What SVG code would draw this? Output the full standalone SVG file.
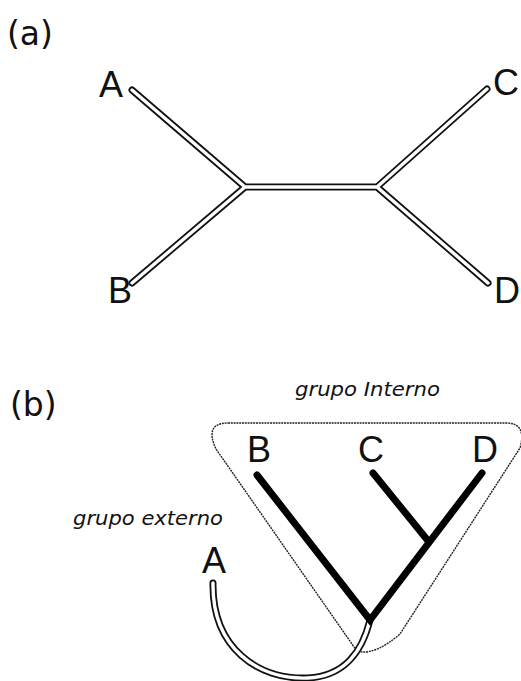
<svg xmlns="http://www.w3.org/2000/svg" width="521" height="681" viewBox="0 0 521 681">
  <style>
    .panel { font-family: "DejaVu Sans", "Liberation Sans", sans-serif; font-size: 33px; fill: #111; }
    .tip { font-family: "Liberation Sans", Arial, sans-serif; font-size: 36px; fill: #111; }
    .group { font-family: "DejaVu Sans", "Liberation Sans", sans-serif; font-size: 19px; font-style: italic; fill: #111; }
    .outer { fill: none; stroke: #111; stroke-width: 7; stroke-linecap: round; stroke-linejoin: round; }
    .inner { fill: none; stroke: #fff; stroke-width: 3.4; stroke-linecap: round; stroke-linejoin: round; }
    .thick { fill: none; stroke: #000; stroke-width: 7; stroke-linecap: round; stroke-linejoin: miter; }
    .clade { fill: none; stroke: #222; stroke-width: 1.4; stroke-dasharray: 2 0.8; }
  </style>
  <rect width="521" height="681" fill="#fff"/>

  <!-- panel labels -->
  <text class="panel" x="7" y="45">(a)</text>
  <text class="panel" x="10" y="416">(b)</text>

  <!-- (a) unrooted tree: connectors drawn as hollow double lines -->
  <g id="edges-a">
    <path class="outer" d="M132,90 L245,187 L132,283 M245,187 L377,187 M487,89 L377,187 L488,283"/>
    <path class="inner" d="M132,90 L245,187 L132,283 M245,187 L377,187 M487,89 L377,187 L488,283"/>
  </g>
  <g id="a-A"><text class="tip" x="99" y="97">A</text></g>
  <g id="a-B"><text class="tip" x="108" y="303">B</text></g>
  <g id="a-C"><text class="tip" x="493" y="95">C</text></g>
  <g id="a-D"><text class="tip" x="494" y="303">D</text></g>

  <!-- (b) rooted tree with ingroup outline -->
  <g id="ingroup">
    <path class="clade" d="M228,423 L506,423 Q527,423 520,448 L400,634 Q378,653 362,652 Q356,651 352,644 L216,449 Q204,423 228,423 Z"/>
    <text class="group" x="295" y="396" textLength="145" lengthAdjust="spacingAndGlyphs">grupo Interno</text>
  </g>
  <g id="outgroup">
    <text class="group" x="73" y="525" textLength="150" lengthAdjust="spacingAndGlyphs">grupo externo</text>
  </g>

  <g id="edges-b">
    <path class="outer" d="M213,583 C212,648 258,680 308,678 C345,676 362,652 370,620"/>
    <path class="inner" d="M213,583 C212,648 258,680 308,678 C345,676 362,652 370,620"/>
    <path class="thick" d="M257,475 L370,620 L482,473 M373,473 L429,542"/>
  </g>
  <g id="b-A"><text class="tip" x="202" y="573">A</text></g>
  <g id="b-B"><text class="tip" x="247" y="462">B</text></g>
  <g id="b-C"><text class="tip" x="358" y="462">C</text></g>
  <g id="b-D"><text class="tip" x="472" y="462">D</text></g>
</svg>
